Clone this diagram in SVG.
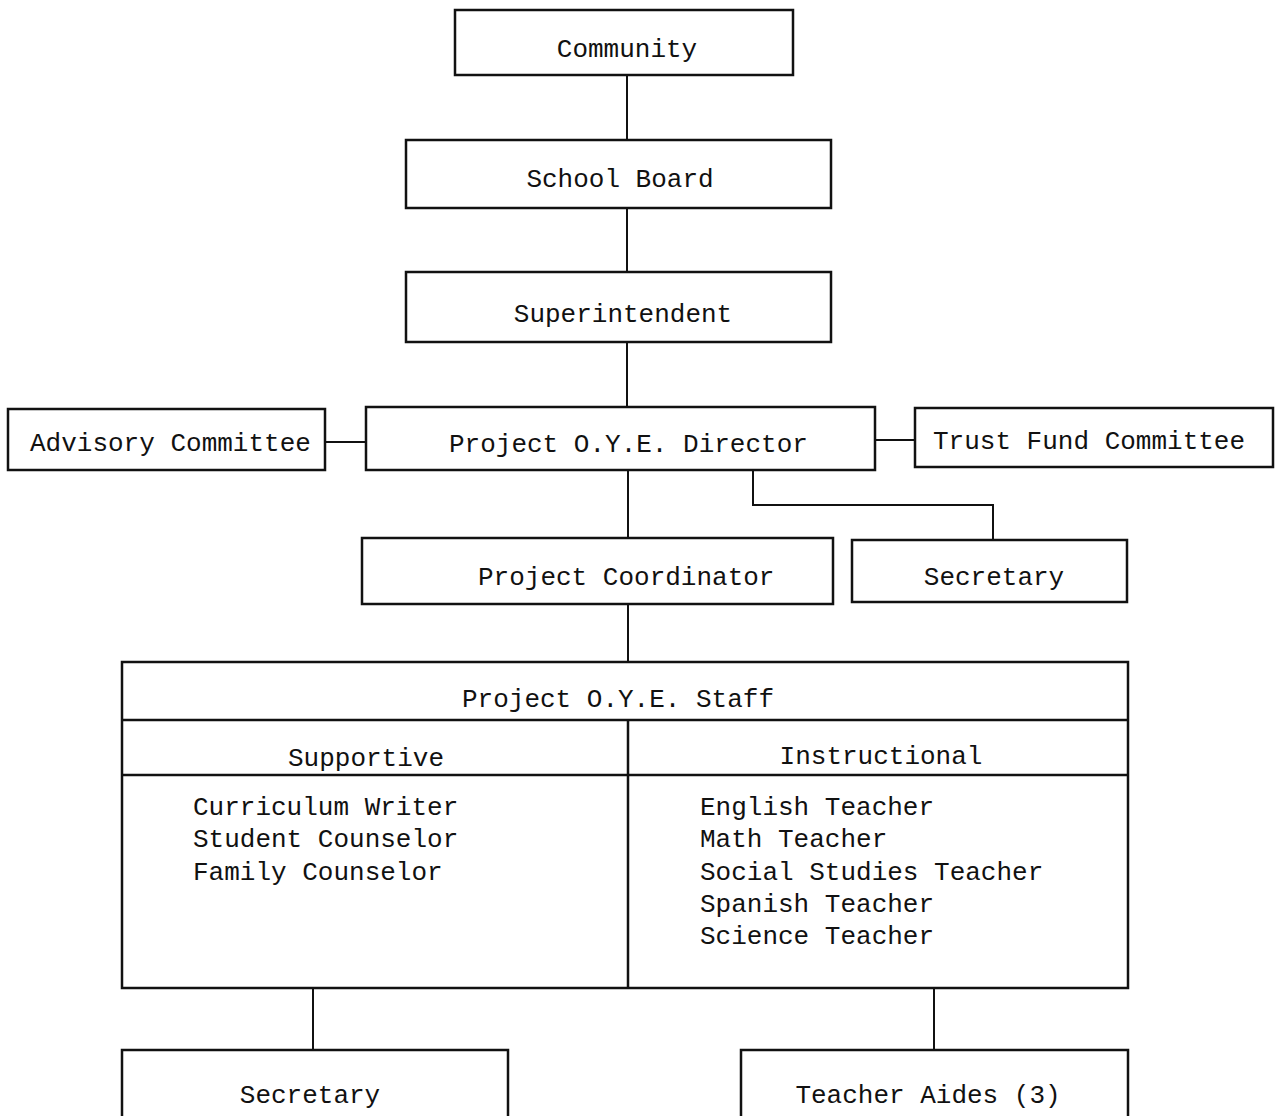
<svg xmlns="http://www.w3.org/2000/svg" width="1277" height="1116" viewBox="0 0 1277 1116">
<style>
.box{fill:none;stroke:#111;stroke-width:2.5}
.ln{fill:none;stroke:#111;stroke-width:2}
text{font-family:"Liberation Mono","Courier New",monospace;font-size:26px;fill:#111}
.m{text-anchor:middle}
</style>
<rect width="1277" height="1116" fill="#fff"/>
<g id="connectors">
<line class="ln" x1="627" y1="75" x2="627" y2="140"/>
<line class="ln" x1="627" y1="208" x2="627" y2="272"/>
<line class="ln" x1="627" y1="342" x2="627" y2="407"/>
<line class="ln" x1="325" y1="442" x2="366" y2="442"/>
<line class="ln" x1="875" y1="440" x2="915" y2="440"/>
<polyline class="ln" points="753,470 753,505 993,505 993,540"/>
<line class="ln" x1="628" y1="470" x2="628" y2="538"/>
<line class="ln" x1="628" y1="604" x2="628" y2="662"/>
<line class="ln" x1="313" y1="988" x2="313" y2="1050"/>
<line class="ln" x1="934" y1="988" x2="934" y2="1050"/>
</g>
<g id="community"><rect class="box" x="455" y="10" width="338" height="65"/><text class="m" x="627" y="57">Community</text></g>
<g id="school-board"><rect class="box" x="406" y="140" width="425" height="68"/><text class="m" x="620" y="187">School Board</text></g>
<g id="superintendent"><rect class="box" x="406" y="272" width="425" height="70"/><text class="m" x="623" y="322">Superintendent</text></g>
<g id="advisory"><rect class="box" x="8" y="409" width="317" height="61"/><text x="30" y="451">Advisory Committee</text></g>
<g id="director"><rect class="box" x="366" y="407" width="509" height="63"/><text x="449" y="452">Project O.Y.E. Director</text></g>
<g id="trust-fund"><rect class="box" x="915" y="408" width="358" height="59"/><text x="933" y="449">Trust Fund Committee</text></g>
<g id="coordinator"><rect class="box" x="362" y="538" width="471" height="66"/><text x="478" y="585">Project Coordinator</text></g>
<g id="secretary-top"><rect class="box" x="852" y="540" width="275" height="62"/><text class="m" x="994" y="585">Secretary</text></g>
<g id="staff">
<rect class="box" x="122" y="662" width="1006" height="326"/>
<line class="box" x1="122" y1="720" x2="1128" y2="720"/>
<line class="box" x1="122" y1="775" x2="1128" y2="775"/>
<line class="box" x1="628" y1="720" x2="628" y2="988"/>
<text class="m" x="618" y="707">Project O.Y.E. Staff</text>
<text class="m" x="366" y="766">Supportive</text>
<text class="m" x="881" y="764">Instructional</text>
<text x="193" y="815">Curriculum Writer</text>
<text x="193" y="847">Student Counselor</text>
<text x="193" y="880">Family Counselor</text>
<text x="700" y="815">English Teacher</text>
<text x="700" y="847">Math Teacher</text>
<text x="700" y="880">Social Studies Teacher</text>
<text x="700" y="912">Spanish Teacher</text>
<text x="700" y="944">Science Teacher</text>
</g>
<g id="secretary-bottom"><rect class="box" x="122" y="1050" width="386" height="80"/><text class="m" x="310" y="1103">Secretary</text></g>
<g id="teacher-aides"><rect class="box" x="741" y="1050" width="387" height="80"/><text class="m" x="928" y="1103">Teacher Aides (3)</text></g>
</svg>
